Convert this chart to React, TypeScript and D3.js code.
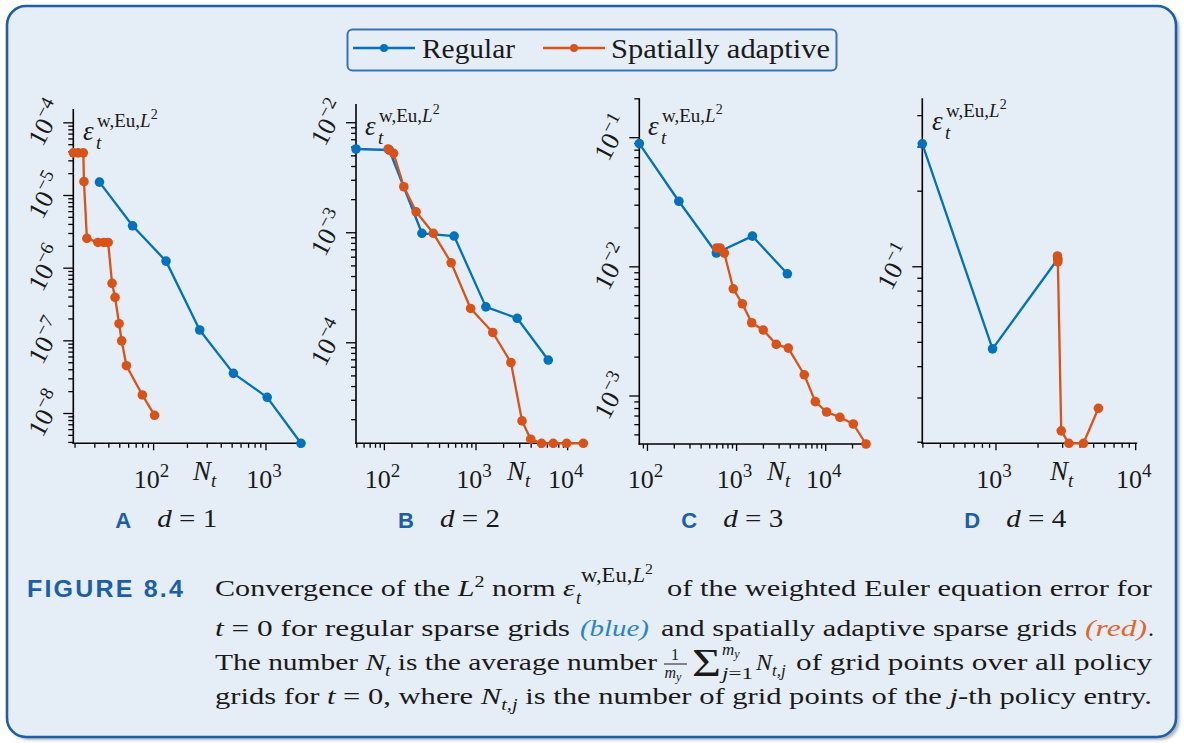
import React from 'react';
import * as d3 from 'd3';

// Colours
const REG_COLOR = '#0072bd';
const ADA_COLOR = '#d95319';
const FRAME_COLOR = '#1b5ea9';
const PANEL_BG = '#e5edf6';
const INK = '#1a1a1a';
const SERIF = "'Liberation Serif', 'DejaVu Serif', serif";
const SANS = "'Liberation Sans', Roboto, sans-serif";

const seriesNames = ['Regular', 'Spatially adaptive'];
const panelLetters = ['A', 'B', 'C', 'D'];
const dimensions = [1, 2, 3, 4];

// d = 1
const d1RegularN = [33, 65, 129, 257, 513, 1025, 2049];
const d1RegularErr = [1.53e-5, 3.83e-6, 1.25e-6, 1.41e-7, 3.57e-8, 1.67e-8, 3.89e-9];
const d1AdaptiveN = [19.3, 21.3, 23.7, 24, 25.5, 32, 36, 39.4, 42.7, 45.4, 49.3, 52, 57.3, 79.4, 102];
const d1AdaptiveErr = [3.86e-5, 3.86e-5, 3.86e-5, 1.55e-5, 2.57e-6, 2.26e-6, 2.26e-6, 2.26e-6, 6.18e-7, 3.96e-7, 1.72e-7, 1.0e-7, 4.55e-8, 1.8e-8, 9.44e-9];
const d1ErrMax = 1.55e-4;

// d = 2
const d2RegularN = [49, 113, 257, 577, 1281, 2817, 6145];
const d2RegularErr = [5.77e-3, 5.65e-3, 9.89e-4, 9.33e-4, 2.12e-4, 1.67e-4, 6.97e-5];
const d2AdaptiveN = [110, 126, 163, 222, 342, 536, 873, 1524, 2404, 3177, 3954, 5188, 6966, 9750, 14825];
const d2AdaptiveErr = [5.77e-3, 5.27e-3, 2.62e-3, 1.55e-3, 9.89e-4, 5.33e-4, 2.05e-4, 1.24e-4, 6.62e-5, 1.95e-5, 1.33e-5, 1.22e-5, 1.22e-5, 1.22e-5, 1.22e-5];
const d2ErrMax = 1.48e-2;

// d = 3
const d3RegularN = [81, 225, 593, 1505, 3713];
const d3RegularErr = [9.0e-2, 3.22e-2, 1.28e-2, 1.73e-2, 8.83e-3];
const d3AdaptiveN = [598, 653, 728, 918, 1159, 1476, 1991, 2786, 3802, 5741, 7638, 10233, 14421, 20370, 28314];
const d3AdaptiveErr = [1.4e-2, 1.4e-2, 1.28e-2, 6.76e-3, 5.18e-3, 3.69e-3, 3.24e-3, 2.51e-3, 2.35e-3, 1.46e-3, 9.04e-4, 7.52e-4, 6.84e-4, 6.07e-4, 4.25e-4];
const d3ErrMax = 0.2018;

// d = 4
const d4RegularN = [297, 945, 2769];
const d4RegularErr = [0.309, 4.71e-2, 0.1074];
const d4AdaptiveN = [2754, 2773, 2931, 3327, 4227, 5408];
const d4AdaptiveErr = [0.1104, 0.1047, 2.22e-2, 1.98e-2, 1.98e-2, 2.73e-2];
const d4ErrMax = 0.469;
const d4NMax = 1e4;

const panelData = [
  { regN: d1RegularN, regE: d1RegularErr, adaN: d1AdaptiveN, adaE: d1AdaptiveErr, eMax: d1ErrMax, nMax: 0 },
  { regN: d2RegularN, regE: d2RegularErr, adaN: d2AdaptiveN, adaE: d2AdaptiveErr, eMax: d2ErrMax, nMax: 0 },
  { regN: d3RegularN, regE: d3RegularErr, adaN: d3AdaptiveN, adaE: d3AdaptiveErr, eMax: d3ErrMax, nMax: 0 },
  { regN: d4RegularN, regE: d4RegularErr, adaN: d4AdaptiveN, adaE: d4AdaptiveErr, eMax: d4ErrMax, nMax: d4NMax },
];

// Plot areas of the four panels
const frames = [
  { left: 73.3, right: 301, bottom: 443.3, top: 109, epsX: 83, epsY: 140, ntX: 193 },
  { left: 356, right: 583.3, bottom: 443.3, top: 104, epsX: 365, epsY: 135, ntX: 507 },
  { left: 639.3, right: 866, bottom: 444, top: 98.3, epsX: 648, epsY: 135, ntX: 767 },
  { left: 922.3, right: 1135.7, bottom: 443.3, top: 98.3, epsX: 932, epsY: 130, ntX: 1050 },
];

type Tick = { v: number; major: boolean; e: number };

function logTicks(lo: number, hi: number): Tick[] {
  const out: Tick[] = [];
  const e0 = Math.floor(Math.log10(lo));
  const e1 = Math.ceil(Math.log10(hi));
  for (let e = e0; e <= e1; e++) {
    for (let k = 1; k <= 9; k++) {
      const v = k * Math.pow(10, e);
      if (v >= lo * 0.999 && v <= hi * 1.001) out.push({ v, major: k === 1, e });
    }
  }
  return out;
}

const expText = (e: number) => (e < 0 ? '\u2212' + Math.abs(e) : String(e));

function Panel({ idx }: { idx: number }) {
  const p = panelData[idx];
  const f = frames[idx];
  const allN = [...p.regN, ...p.adaN];
  const allE = [...p.regE, ...p.adaE];
  const nLo = d3.min(allN) as number;
  const nHi = p.nMax || (d3.max(allN) as number);
  const eLo = d3.min(allE) as number;
  const x = d3.scaleLog().domain([nLo, nHi]).range([f.left, f.right]);
  const y = d3.scaleLog().domain([eLo, p.eMax]).range([f.bottom, f.top]);
  const line = d3.line<[number, number]>().x((d) => x(d[0])).y((d) => y(d[1]));
  const series = [
    { color: REG_COLOR, pts: p.regN.map((n, i) => [n, p.regE[i]] as [number, number]) },
    { color: ADA_COLOR, pts: p.adaN.map((n, i) => [n, p.adaE[i]] as [number, number]) },
  ];
  const xt = logTicks(nLo, nHi);
  const yt = logTicks(eLo, p.eMax);
  return (
    <g>
      {/* spines */}
      <line x1={f.left} x2={f.left} y1={f.bottom + 0.75} y2={f.top} stroke="#000" strokeWidth={1.6} />
      <line x1={f.left - 0.75} x2={f.right + 1.5} y1={f.bottom} y2={f.bottom} stroke="#000" strokeWidth={1.6} />
      {xt.map((t, i) => (
        <line key={'xt' + i} x1={x(t.v)} x2={x(t.v)} y1={f.bottom} y2={f.bottom + (t.major ? 7 : 4.5)} stroke="#000" strokeWidth={1.3} />
      ))}
      {yt.map((t, i) => (
        <line key={'yt' + i} x1={f.left} x2={f.left - (t.major ? 10 : 5)} y1={y(t.v)} y2={y(t.v)} stroke="#000" strokeWidth={1.3} />
      ))}
      {xt.filter((t) => t.major).map((t, i) => (
        <text key={'xl' + i} x={x(t.v) - 2} y={488} textAnchor="middle" fontFamily={SERIF} fontSize={26} fill={INK}>
          10<tspan dy={-11} fontSize={19}>{expText(t.e)}</tspan>
        </text>
      ))}
      {yt.filter((t) => t.major).map((t, i) => (
        <g key={'yl' + i} transform={`translate(${f.left - 28},${y(t.v)}) rotate(-62)`}>
          <text x={0} y={9} textAnchor="middle" fontFamily={SERIF} fontSize={26} fill={INK}>
            10<tspan dy={-11} fontSize={19}>{expText(t.e)}</tspan>
          </text>
        </g>
      ))}
      {series.map((s, si) => (
        <g key={'s' + si}>
          <path d={line(s.pts) as string} fill="none" stroke={s.color} strokeWidth={2.3} strokeLinejoin="round" />
          {s.pts.map((d, i) => (
            <circle key={i} cx={x(d[0])} cy={y(d[1])} r={4.8} fill={s.color} />
          ))}
        </g>
      ))}
      {/* y label */}
      <text x={f.epsX} y={f.epsY} fontFamily={SERIF} fontSize={27} fontStyle="italic" fill={INK}>ε</text>
      <text x={f.epsX + 13} y={f.epsY + 9} fontFamily={SERIF} fontSize={19} fontStyle="italic" fill={INK}>t</text>
      <text x={f.epsX + 14} y={f.epsY - 13} fontFamily={SERIF} fontSize={19} fill={INK}>
        w,Eu,<tspan fontStyle="italic">L</tspan>
        <tspan dy={-8} fontSize={14}>2</tspan>
      </text>
      {/* x label */}
      <text x={f.ntX} y={480} fontFamily={SERIF} fontSize={27} fontStyle="italic" fill={INK}>
        N<tspan dy={7} fontSize={19}>t</tspan>
      </text>
      {/* panel tag */}
      <text x={f.left + 42} y={528} fontFamily={SANS} fontWeight="bold" fontSize={22} fill={FRAME_COLOR}>
        {panelLetters[idx]}
      </text>
      <text x={f.left + 84} y={527} fontFamily={SERIF} fontSize={26} fill={INK} textLength={60} lengthAdjust="spacingAndGlyphs">
        <tspan fontStyle="italic">d</tspan> = {dimensions[idx]}
      </text>
    </g>
  );
}

function Legend() {
  const items = [
    { name: seriesNames[0], color: REG_COLOR, x0: 353, tx: 422, tl: 93 },
    { name: seriesNames[1], color: ADA_COLOR, x0: 543, tx: 611, tl: 219 },
  ];
  return (
    <g>
      <rect x={347.5} y={29.5} width={489} height={41} rx={5} fill={PANEL_BG} stroke="#3a72b4" strokeWidth={2} />
      {items.map((it) => (
        <g key={it.name}>
          <line x1={it.x0} x2={it.x0 + 62} y1={48} y2={48} stroke={it.color} strokeWidth={2.4} />
          <circle cx={it.x0 + 31} cy={48} r={4} fill={it.color} />
          <text x={it.tx} y={58} fontFamily={SERIF} fontSize={28} fill={INK} textLength={it.tl} lengthAdjust="spacingAndGlyphs">
            {it.name}
          </text>
        </g>
      ))}
    </g>
  );
}

function Caption() {
  const common = { fontFamily: SERIF, fontSize: 24, fill: INK, lengthAdjust: 'spacingAndGlyphs' as const };
  const it = { fontStyle: 'italic' as const };
  return (
    <g>
      <text x={27} y={597} fontFamily={SANS} fontWeight="bold" fontSize={23} letterSpacing={2} fill={FRAME_COLOR} textLength={158} lengthAdjust="spacingAndGlyphs">
        FIGURE 8.4
      </text>
      {/* line 1 */}
      <text x={215} y={596} {...common} textLength={360}>
        Convergence of the <tspan {...it}>L</tspan>
        <tspan dy={-9} fontSize={16}>2</tspan>
        <tspan dy={9}> norm </tspan>
        <tspan {...it}>ε</tspan>
      </text>
      <text x={576} y={604} fontFamily={SERIF} fontSize={18} fontStyle="italic" fill={INK}>t</text>
      <text x={581} y={582} fontFamily={SERIF} fontSize={20} fill={INK} textLength={72} lengthAdjust="spacingAndGlyphs">
        w,Eu,<tspan {...it}>L</tspan>
        <tspan dy={-8} fontSize={14}>2</tspan>
      </text>
      <text x={667} y={596} {...common} textLength={485}>of the weighted Euler equation error for</text>
      {/* line 2 */}
      <text x={215} y={636} {...common} textLength={355}>
        <tspan {...it}>t</tspan> = 0 for regular sparse grids
      </text>
      <text x={580} y={636} {...common} {...it} fill="#2a84c8" textLength={69}>(blue)</text>
      <text x={661} y={636} {...common} textLength={416}>and spatially adaptive sparse grids</text>
      <text x={1085} y={636} {...common} {...it} fill="#e0672c" textLength={62}>(red)</text>
      <text x={1148} y={636} {...common}>.</text>
      {/* line 3 */}
      <text x={215} y={670} {...common} textLength={442}>
        The number <tspan {...it}>N</tspan>
        <tspan dy={6} fontSize={16} {...it}>t</tspan>
        <tspan dy={-6}> is the average number</tspan>
      </text>
      <text x={675} y={660} textAnchor="middle" fontFamily={SERIF} fontSize={16} fill={INK}>1</text>
      <line x1={664} x2={687} y1={664} y2={664} stroke={INK} strokeWidth={1} />
      <text x={673} y={678} textAnchor="middle" fontFamily={SERIF} fontSize={16} fontStyle="italic" fill={INK}>
        m<tspan dy={3} fontSize={12}>y</tspan>
      </text>
      <text x={692} y={676} fontFamily={SERIF} fontSize={40} fill={INK} textLength={29} lengthAdjust="spacingAndGlyphs">Σ</text>
      <text x={722} y={655} fontFamily={SERIF} fontSize={17} fontStyle="italic" fill={INK}>
        m<tspan dy={3} fontSize={12}>y</tspan>
      </text>
      <text x={722} y={679} fontFamily={SERIF} fontSize={17} fill={INK} textLength={31} lengthAdjust="spacingAndGlyphs">
        <tspan {...it}>j</tspan>=1
      </text>
      <text x={756} y={670} fontFamily={SERIF} fontSize={24} fill={INK}>
        <tspan {...it}>N</tspan>
        <tspan dy={6} fontSize={17} {...it}>t,j</tspan>
      </text>
      <text x={796} y={670} {...common} textLength={356}>of grid points over all policy</text>
      {/* line 4 */}
      <text x={215} y={704} {...common} textLength={937}>
        grids for <tspan {...it}>t</tspan> = 0, where <tspan {...it}>N</tspan>
        <tspan dy={6} fontSize={16} {...it}>t,j</tspan>
        <tspan dy={-6}> is the number of grid points of the </tspan>
        <tspan {...it}>j</tspan>-th policy entry.
      </text>
    </g>
  );
}

export default function App() {
  return (
    <div style={{ position: 'absolute', left: 0, top: 0 }}>
      <svg width={1184} height={743} viewBox="0 0 1184 743" style={{ display: 'block', background: '#fff' }}>
        <defs>
          <filter id="soft" x="-5%" y="-5%" width="110%" height="110%">
            <feGaussianBlur stdDeviation={1.5} />
          </filter>
        </defs>
        <rect x={9.5} y={9} width={1170} height={731} rx={19} fill="#8e97a3" opacity={0.7} filter="url(#soft)" />
        <rect x={7} y={6} width={1169} height={731} rx={19} fill={PANEL_BG} stroke={FRAME_COLOR} strokeWidth={2.6} />
        <Legend />
        {panelData.map((_, i) => (
          <Panel key={i} idx={i} />
        ))}
        <Caption />
      </svg>
    </div>
  );
}
